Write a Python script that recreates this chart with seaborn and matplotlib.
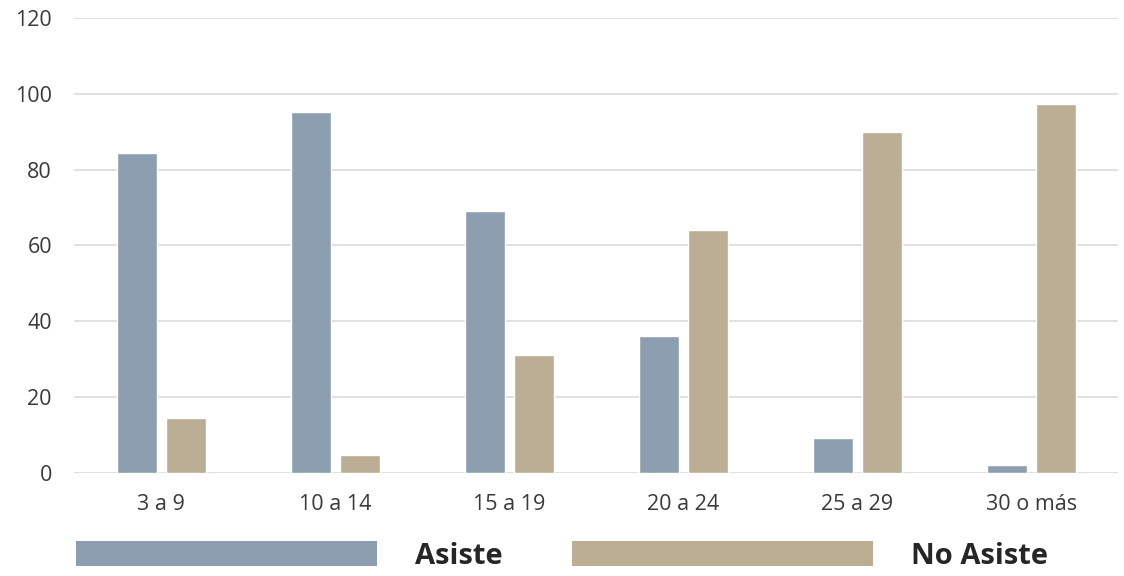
import seaborn as sns
import pandas as pd
import matplotlib.pyplot as plt
from matplotlib.patches import Patch

grupos = ["3 a 9", "10 a 14", "15 a 19", "20 a 24", "25 a 29", "30 o más"]
asiste = [84.4, 95.1, 69.1, 36.0, 9.2, 2.2]
no_asiste = [14.4, 4.6, 31.2, 64.0, 89.9, 97.2]
series = ["Asiste", "No Asiste"]
colores = ["#8c9eb0", "#bbae95"]

df = pd.DataFrame({
    "Edad": grupos * 2,
    "Valor": asiste + no_asiste,
    "Serie": [series[0]] * len(grupos) + [series[1]] * len(grupos),
})

sns.set_style("white")
plt.rcParams["font.family"] = ["Open Sans", "DejaVu Sans"]

fig = plt.figure(figsize=(11.24, 5.76), dpi=100)
ax = fig.add_axes([0.066, 0.179, 0.929, 0.79])

sns.barplot(data=df, x="Edad", y="Valor", hue="Serie", order=grupos,
            hue_order=series, palette=colores, width=0.56, gap=0.18,
            saturation=1, legend=False, ax=ax)

ax.set_ylim(0, 120)
ax.set_xlim(-0.5, len(grupos) - 0.5)
ax.set_yticks(range(0, 121, 20))
ax.yaxis.grid(True, color="#d9d9d9", linewidth=1.1)
ax.set_axisbelow(True)
sns.despine(ax=ax, left=True, bottom=True)
ax.set_xlabel("")
ax.set_ylabel("")
ax.tick_params(axis="y", length=0, pad=16, labelsize=15.5, labelcolor="#3a3a3a")
ax.tick_params(axis="x", length=0, pad=15, labelsize=15.5, labelcolor="#3a3a3a")

# leyenda inferior con parches alargados
handles = [Patch(facecolor=c, edgecolor="none", label=s) for c, s in zip(colores, series)]
leg = fig.legend(handles=handles, loc="center left", bbox_to_anchor=(0.068, 0.035),
                 ncol=2, frameon=False, handlelength=10.3, handleheight=0.95,
                 handletextpad=1.3, columnspacing=2.4, borderpad=0, borderaxespad=0,
                 prop={"size": 21, "weight": "bold"})

fig.savefig("out.png", dpi=100)
